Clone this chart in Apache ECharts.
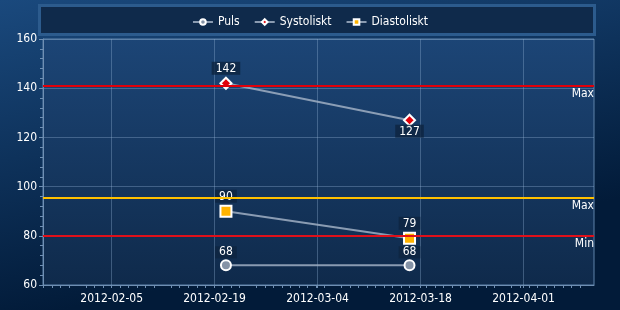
<!DOCTYPE html>
<html>
<head>
<meta charset="utf-8">
<script src="https://cdn.jsdelivr.net/npm/echarts@6/dist/echarts.min.js"></script>
<style>html,body{margin:0;padding:0;background:#0a2a50;}#c{width:620px;height:310px;}</style>
</head>
<body>
<div id="c"></div>
<script>
var dates = ['2012-02-20T13:00:00', '2012-03-16T12:00:00'];
var puls = [68, 68];
var systoliskt = [142, 127];
var diastoliskt = [90, 79];
var tickDates = ['2012-02-05', '2012-02-19', '2012-03-04', '2012-03-18', '2012-04-01'];
var axisStart = '2012-01-26T16:00:00';
var axisEnd = '2012-04-10T14:00:00';
var sysMax = 141;
var diaMax = 95.5;
var diaMin = 80;

function ts(s){ return new Date(s).getTime(); }
function pts(vals){ return dates.map(function(d,i){ return [ts(d), vals[i]]; }); }
var tickTs = tickDates.map(function(d){ return ts(d + 'T00:00:00'); });

var FONT = '"DejaVu Sans Condensed", "Liberation Sans", sans-serif';
var chart = echarts.init(document.getElementById('c'), null, {renderer:'canvas'});
var labelStyle = {
  show: true, color: '#ffffff', fontFamily: FONT, fontSize: 12, lineHeight: 12,
  backgroundColor: 'rgba(14,36,64,0.8)', padding: [1, 4, 0, 4], distance: 2
};
function pad2(n){ return (n<10?'0':'')+n; }
chart.setOption({
  animation: false,
  backgroundColor: new echarts.graphic.LinearGradient(0, 0, 0.1, 1, [
    {offset: 0, color: '#1a497d'}, {offset: 1, color: '#021b39'}
  ]),
  textStyle: {fontFamily: FONT},
  graphic: [{
    type: 'rect', left: 38, top: 4, z: -1,
    shape: {width: 555, height: 29},
    style: {fill: '#0f2a4b', stroke: '#2c5b8d', lineWidth: 3}
  }],
  legend: {
    top: 11, left: 'center', itemWidth: 20, itemHeight: 7, itemGap: 14,
    textStyle: {color: '#ffffff', fontFamily: FONT, fontSize: 12},
    data: ['Puls', 'Systoliskt', 'Diastoliskt']
  },
  grid: {
    left: 43, right: 26, top: 39, bottom: 25, show: true,
    borderColor: '#5f83aa', borderWidth: 1,
    backgroundColor: new echarts.graphic.LinearGradient(0, 0, 0, 1, [
      {offset: 0, color: '#1c4576'}, {offset: 1, color: '#0f2a4b'}
    ])
  },
  xAxis: {
    type: 'value', min: ts(axisStart), max: ts(axisEnd),
    axisLine: {show: true, lineStyle: {color: '#6f8fb3', width: 1}},
    axisTick: {show: true, length: 3, customValues: tickTs, lineStyle: {color: '#6f8fb3'}},
    minorTick: {show: true, splitNumber: 10, length: 3, lineStyle: {color: '#6f8fb3'}},
    axisLabel: {
      color: '#ffffff', fontFamily: FONT, fontSize: 12, margin: 8,
      customValues: tickTs,
      formatter: function(v){ var d = new Date(v); return d.getFullYear()+'-'+pad2(d.getMonth()+1)+'-'+pad2(d.getDate()); }
    },
    splitLine: {show: true, lineStyle: {color: 'rgba(150,180,215,0.35)', width: 1}}
  },
  yAxis: {
    type: 'value', min: 60, max: 160, interval: 20,
    axisLine: {show: true, lineStyle: {color: '#6f8fb3', width: 1}},
    axisTick: {show: true, length: 4, lineStyle: {color: '#6f8fb3'}},
    minorTick: {show: true, splitNumber: 5, length: 3, lineStyle: {color: '#6f8fb3'}},
    axisLabel: {color: '#ffffff', fontFamily: FONT, fontSize: 12, margin: 6},
    splitLine: {show: true, lineStyle: {color: 'rgba(150,180,215,0.35)', width: 1}}
  },
  series: [
    {
      name: 'Puls', type: 'line', data: pts(puls), z: 3,
      symbol: 'circle', symbolSize: 10, showAllSymbol: true,
      itemStyle: {color: '#8593a6', borderColor: '#ffffff', borderWidth: 2},
      lineStyle: {color: 'rgba(160,175,195,0.85)', width: 2},
      label: Object.assign({}, labelStyle, {position: 'top', padding: [0, 4, 0, 4], distance: 1, formatter: function(p){ return p.value[1]; }})
    },
    {
      name: 'Systoliskt', type: 'line', data: pts(systoliskt),
      symbol: 'diamond', symbolSize: 11,
      itemStyle: {color: '#e0000a', borderColor: '#ffffff', borderWidth: 2},
      lineStyle: {color: 'rgba(160,175,195,0.85)', width: 2},
      label: Object.assign({}, labelStyle, {
        position: 'top',
        formatter: function(p){ return p.value[1]; }
      }),
      labelLayout: function(p){ return p.dataIndex === 1 ? {dy: 26} : {}; },
      markLine: {
        silent: true, symbol: 'none',
        label: {show: true, position: 'insideEndBottom', color: '#ffffff', fontFamily: FONT, fontSize: 12, distance: [0, 2], formatter: '{b}'},
        lineStyle: {color: '#e0000a', width: 2, type: 'solid'},
        data: [{name: 'Max', yAxis: sysMax}]
      }
    },
    {
      name: 'Diastoliskt', type: 'line', data: pts(diastoliskt), z: 4,
      symbol: 'rect', symbolSize: 11,
      itemStyle: {color: '#ffb300', borderColor: '#ffffff', borderWidth: 2},
      lineStyle: {color: 'rgba(160,175,195,0.85)', width: 2},
      label: Object.assign({}, labelStyle, {position: 'top', formatter: function(p){ return p.value[1]; }}),
      markLine: {
        silent: true, symbol: 'none',
        label: {show: true, position: 'insideEndBottom', color: '#ffffff', fontFamily: FONT, fontSize: 12, distance: [0, 2], formatter: '{b}'},
        data: [
          {name: 'Max', yAxis: diaMax, lineStyle: {color: '#ffc000', width: 2, type: 'solid'}},
          {name: 'Min', yAxis: diaMin, lineStyle: {color: '#e0101a', width: 2, type: 'solid'}}
        ]
      }
    }
  ]
});
</script>
</body>
</html>
